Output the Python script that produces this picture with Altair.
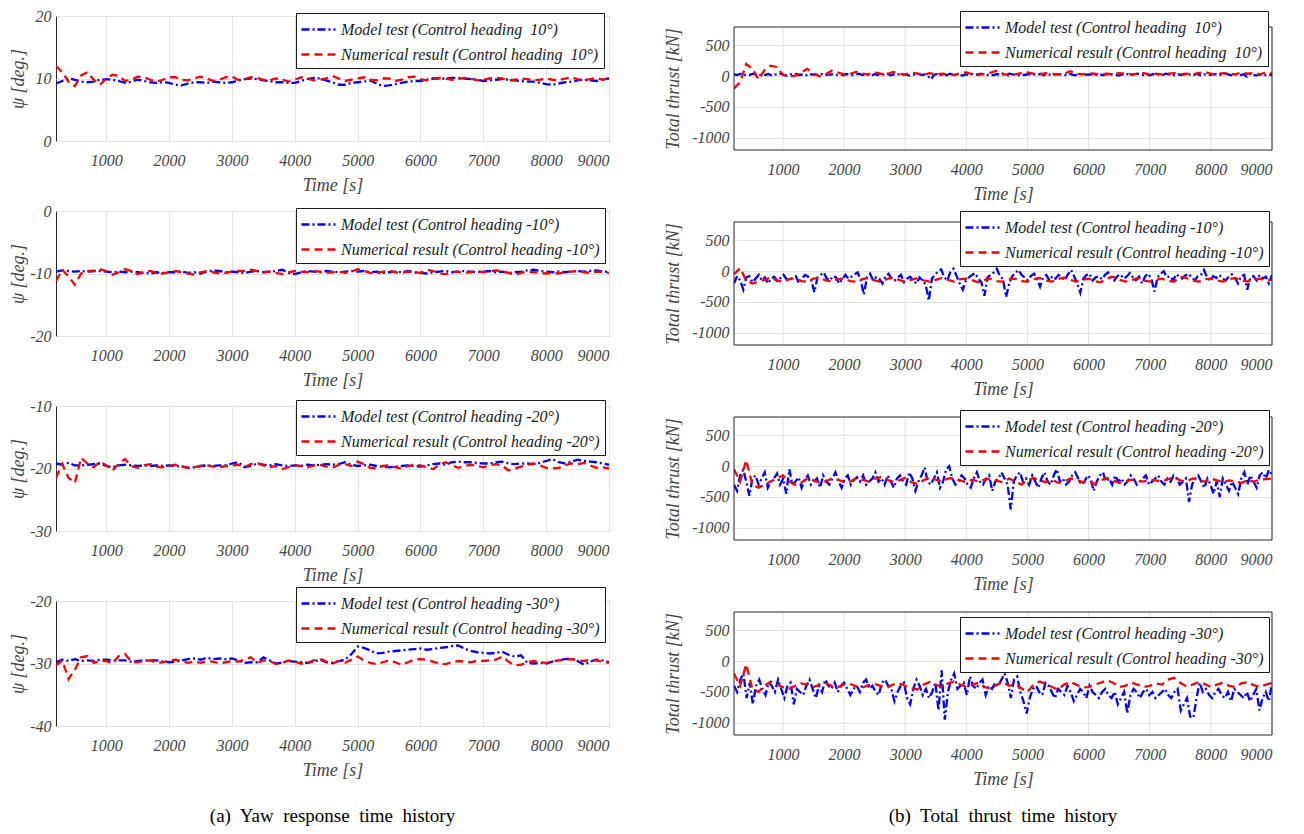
import altair as alt
import pandas as pd
import numpy as np

# ---------------- data ----------------
T0, T1 = 200, 9000
X_TICKS = [1000, 2000, 3000, 4000, 5000, 6000, 7000, 8000, 9000]
HEADINGS = ["\u00a010", "-10", "-20", "-30"]

# Yaw (deg), samples every 100 s from 200 s to 9000 s
yaw_model_10 = [9.2, 9.6, 10.0, 9.8, 9.5, 9.4, 9.5, 9.8, 9.9, 9.8, 9.6, 9.3, 9.5, 9.8, 9.6, 9.4, 9.3, 9.4, 9.3, 9.0,
                8.9, 9.2, 9.4, 9.4, 9.3, 9.5, 9.4, 9.3, 9.4, 9.7, 9.9, 10.0, 9.9, 9.7, 9.6, 9.4, 9.4, 9.3, 9.3, 9.6,
                9.9, 10.1, 10.0, 9.7, 9.4, 9.0, 9.0, 9.3, 9.4, 9.5, 9.7, 9.2, 8.8, 8.9, 9.1, 9.3, 9.5, 9.6, 9.6, 9.8,
                10.0, 10.0, 10.0, 10.1, 10.1, 10.0, 9.9, 9.8, 9.6, 9.7, 9.8, 9.9, 9.8, 9.7, 9.6, 9.5, 9.5, 9.3, 9.1, 9.0,
                9.2, 9.4, 9.5, 9.7, 9.8, 9.7, 9.6, 9.9, 10.0]
yaw_num_10 = [12.0, 11.0, 9.5, 8.8, 10.5, 11.0, 9.8, 9.0, 10.0, 10.6, 10.4, 9.6, 9.8, 10.3, 10.2, 9.8, 9.5, 9.8, 10.2, 10.2,
              9.8, 9.7, 10.0, 10.3, 10.0, 9.6, 9.8, 10.2, 10.3, 9.8, 9.9, 10.2, 10.1, 9.8, 9.7, 10.0, 9.8, 9.5, 9.8, 10.2,
              10.0, 9.7, 9.8, 10.0, 10.4, 10.0, 9.6, 9.8, 10.0, 10.2, 9.8, 9.7, 10.0, 10.0, 9.6, 9.8, 10.2, 10.3, 9.9, 9.7,
              10.0, 10.1, 10.0, 9.8, 9.9, 10.1, 10.0, 9.7, 9.8, 10.0, 10.1, 10.0, 9.7, 9.8, 10.0, 9.9, 9.7, 9.8, 10.0, 9.8,
              9.7, 10.0, 10.2, 9.9, 9.7, 9.9, 10.1, 9.8, 10.0]
yaw_model_m10 = [-9.7, -9.5, -9.6, -9.7, -9.6, -9.7, -9.6, -9.6, -9.7, -9.8, -9.7, -9.8, -9.7, -9.8, -9.9, -10.0, -9.8, -9.9,
                 -9.8, -9.8, -9.7, -9.9, -9.8, -10.0, -9.7, -9.5, -9.6, -9.8, -9.7, -9.8, -9.9, -9.7, -9.6, -9.8, -9.7, -9.6,
                 -9.4, -9.9, -10.1, -9.8, -9.6, -9.7, -9.8, -9.6, -9.7, -9.8, -9.7, -9.6, -9.7, -9.6, -9.8, -9.7, -9.9, -9.8,
                 -9.7, -9.8, -9.6, -9.8, -9.9, -10.0, -9.8, -9.7, -9.6, -9.8, -9.7, -9.6, -9.7, -9.8, -9.7, -9.6, -9.8, -9.7,
                 -9.9, -9.8, -9.7, -9.5, -9.4, -9.6, -9.7, -9.8, -9.7, -9.8, -9.7, -9.6, -9.7, -9.6, -9.5, -9.7, -9.7]
yaw_num_m10 = [-11.2, -9.4, -10.5, -11.8, -10.0, -9.6, -9.6, -9.3, -9.6, -10.2, -9.8, -9.3, -9.6, -10.1, -9.8, -9.6, -9.9,
               -10.0, -9.8, -9.6, -9.8, -10.0, -10.2, -9.8, -9.6, -9.8, -10.0, -9.9, -9.7, -9.6, -9.6, -9.4, -9.6, -9.8,
               -9.7, -9.9, -10.1, -9.8, -9.6, -9.7, -9.8, -9.6, -9.7, -9.9, -9.8, -9.7, -9.9, -9.7, -9.3, -9.6, -9.9, -10.0,
               -9.7, -9.6, -9.8, -9.9, -9.7, -9.8, -9.9, -9.4, -9.6, -10.0, -10.1, -9.8, -9.7, -9.9, -9.8, -9.6, -9.8, -9.7,
               -9.5, -9.6, -9.9, -10.2, -9.9, -9.7, -9.8, -9.9, -10.0, -9.9, -10.0, -9.8, -9.7, -9.6, -9.8, -9.9, -9.7,
               -9.8, -9.9]
yaw_model_m20 = [-19.2, -19.4, -19.1, -19.5, -19.5, -19.4, -19.3, -19.2, -19.6, -19.8, -19.5, -19.4, -19.5, -19.6, -19.5,
                 -19.6, -19.5, -19.6, -19.5, -19.6, -19.7, -19.9, -19.8, -19.6, -19.5, -19.6, -19.5, -19.5, -19.2, -19.0,
                 -19.8, -19.6, -19.2, -19.4, -19.5, -19.3, -19.5, -19.6, -19.5, -19.6, -19.4, -19.5, -19.4, -19.3, -19.4,
                 -19.3, -19.0, -19.4, -19.6, -19.5, -19.4, -19.6, -19.7, -19.8, -19.7, -19.6, -19.5, -19.6, -19.7, -19.5,
                 -19.3, -19.2, -19.4, -19.0, -18.9, -19.0, -19.0, -19.1, -19.2, -19.2, -19.0, -18.9, -19.2, -19.3, -19.2,
                 -19.2, -19.3, -19.1, -18.8, -18.5, -19.0, -19.2, -18.9, -18.6, -18.8, -18.9, -19.0, -19.2, -19.4]
yaw_num_m20 = [-21.5, -19.3, -21.5, -22.3, -18.3, -19.2, -19.8, -18.9, -19.5, -20.3, -19.2, -18.5, -19.6, -19.9, -19.5,
               -19.3, -19.7, -19.8, -19.6, -19.4, -19.6, -19.9, -19.8, -19.6, -19.5, -19.7, -19.8, -19.6, -19.5, -19.4,
               -19.8, -19.3, -19.1, -19.5, -19.8, -19.6, -20.1, -19.8, -19.5, -19.6, -19.8, -19.5, -19.4, -19.7, -19.9,
               -19.4, -19.3, -19.6, -18.9, -19.3, -19.9, -20.0, -19.6, -19.5, -19.8, -20.0, -19.6, -19.4, -19.5, -19.8,
               -20.1, -19.4, -19.0, -19.5, -19.9, -19.6, -19.4, -19.6, -19.8, -19.5, -19.3, -19.5, -20.3, -20.0, -19.7,
               -19.4, -19.2, -19.5, -19.9, -20.0, -19.9, -19.5, -19.2, -19.3, -19.1, -19.5, -19.9, -19.8, -20.0]
yaw_model_m30 = [-29.8, -29.4, -29.6, -29.3, -29.6, -29.5, -29.6, -29.4, -29.4, -29.5, -29.5, -29.5, -29.7, -29.6, -29.5,
                 -29.5, -29.5, -29.7, -29.8, -29.7, -29.5, -29.3, -29.2, -29.4, -29.1, -29.3, -29.2, -29.3, -29.2, -29.5,
                 -29.9, -29.8, -29.8, -29.0, -29.5, -30.0, -29.9, -29.6, -29.7, -29.8, -29.9, -29.7, -29.4, -29.8, -29.9,
                 -29.6, -29.4, -28.5, -27.3, -27.5, -27.9, -28.4, -28.3, -28.1, -28.0, -27.9, -27.8, -27.7, -27.6, -27.8,
                 -27.7, -27.5, -27.4, -27.2, -27.1, -27.6, -28.0, -28.2, -28.3, -28.4, -28.3, -28.1, -28.6, -28.9, -28.7,
                 -29.9, -30.0, -29.9, -30.0, -29.7, -29.5, -29.3, -29.2, -29.6, -30.2, -29.7, -29.4, -29.5, -29.8]
yaw_num_m30 = [-30.3, -29.5, -32.5, -31.0, -29.0, -28.8, -29.9, -29.6, -29.6, -30.0, -28.8, -28.5, -29.7, -29.8, -29.6,
               -29.5, -29.9, -29.8, -29.5, -29.4, -29.6, -29.9, -29.7, -29.9, -29.6, -29.7, -30.0, -29.8, -29.6, -29.7,
               -29.4, -29.0, -29.9, -29.5, -29.6, -30.1, -29.9, -29.5, -29.7, -30.0, -29.9, -29.5, -29.2, -29.7, -30.0,
               -29.6, -29.9, -29.4, -28.9, -29.5, -29.9, -30.1, -29.8, -29.5, -29.8, -30.2, -29.8, -29.4, -29.3, -29.4,
               -29.7, -30.0, -30.1, -29.8, -29.6, -29.7, -29.8, -29.6, -29.6, -29.5, -29.4, -28.9, -29.7, -30.3, -30.2,
               -29.8, -29.6, -29.8, -29.9, -29.7, -29.5, -29.4, -29.3, -29.5, -29.6, -29.4, -29.5, -29.7, -29.9]

# Total thrust (kN): model test sampled every 50 s, numerical every 100 s (200 s .. 9000 s)
thr_model_10 = [30, 20, 40, 10, 30, 20, 40, 25, 10, 30, 20, 35, 15, 30, 25, 40, 20, 10, 30, 25, 35, 20, 30, 15, 40, 25,
                30, 20, 35, 10, 30, 25, 40, 20, 30, 15, 35, 25, 20, 30, 40, 20, 30, 25, 10, 35, 20, 30, 25, 40, 15, 30,
                20, 35, 25, 30, 10, 20, 30, 40, 20, 30, 0, -50, 25, 35, 20, 30, 15, 40, 25, 30, 20, 10, 30, 25, 35, 20,
                30, 40, 25, 20, 30, 15, 35, 25, 30, 20, 40, 30, 25, 15, 30, 20, 35, 25, 30, 20, 40, 15, 30, 25, 20, 35,
                30, 25, 20, 40, 30, 15, 25, 35, 20, 30, 25, 40, 20, 30, 15, 35, 25, 30, 20, 10, 30, 25, 35, 20, 30, 40,
                25, 20, 30, 15, 35, 25, 30, 20, 40, 30, 25, 15, 30, 20, 35, 25, 30, 20, 40, 15, 30, 25, 20, 35, 30, 25,
                20, 40, 30, 15, 25, 35, 20, 30, -10, 40, 20, 15, 30, 25, 20, 35, 10]
thr_num_10 = [-200, -100, 200, 120, -50, 100, 170, 150, 20, 0, 10, 60, 120, 40, 0, 30, 90, 60, 30, 40, 70, 40, 30, 60,
              40, 30, 70, 40, 30, 60, 40, 20, 50, 30, 40, 30, 20, 50, 60, 30, 20, 40, 60, 90, 40, 10, 30, 50, 60, 40,
              30, 50, 40, 30, 40, 80, 40, 30, 50, 40, 30, 40, 30, 50, 40, 30, 40, 50, 30, 40, 30, 40, 50, 30, 40, 30,
              50, 70, 40, 30, 50, 40, 30, 60, 40, 50, 30, 60, 40]
thr_model_m10 = [-200, -80, -150, -300, -100, -80, -180, -120, -60, -150, -100, -200, -120, -90, -160, -110, -60, -130,
                 -150, -100, -80, -200, -120, -60, -90, -150, -340, -100, -60, -20, -120, -150, -80, -100, -200, -130,
                 -60, -120, -90, -50, -20, -150, -380, -100, -40, -150, -100, -120, -200, -80, -40, -130, -150, -100,
                 -60, -180, -120, -90, -150, -200, -100, -150, -220, -480, -120, -60, 0, 30, -100, -150, -10, 40, -80,
                 -200, -300, -150, -100, -60, -30, -120, -180, -400, -100, -60, -20, 40, -80, -130, -420, -200, -80,
                 -30, 20, -60, -100, -150, -80, -40, -120, -250, -100, -60, -150, -80, -120, -60, -100, -150, -50, 20,
                 -80, -200, -350, -120, -60, -40, -150, -100, -80, -130, -60, -20, -100, -150, -80, -50, -120, -90,
                 -30, -100, -150, -90, -200, -80, -40, -130, -330, -100, -40, 0, -100, -80, -150, -50, -90, -120, -70,
                 -40, -100, -150, -80, -60, 20, -100, -150, -80, -110, -60, -120, -150, -90, -50, -110, -200, -80, -60,
                 -300, -100, -80, -150, -60, -120, -90, -200, -60]
thr_num_m10 = [-50, 50, -150, -200, -170, -140, -100, -150, -170, -130, -110, -160, -170, -120, -110, -150, -170, -130,
               -120, -160, -170, -130, -110, -150, -170, -130, -100, -140, -170, -140, -110, -150, -170, -140, -110,
               -140, -170, -130, -120, -150, -180, -140, -120, -160, -170, -130, -120, -160, -170, -130, -110, -150,
               -170, -130, -100, -140, -170, -140, -120, -160, -180, -120, -90, -140, -170, -150, -110, -150, -170,
               -140, -120, -160, -170, -90, -110, -150, -170, -130, -120, -150, -170, -130, -110, -150, -170, -130,
               -120, -150, -140]
thr_model_m20 = [-300, -400, -150, -60, -250, -480, -200, -150, -300, -200, -100, -350, -250, -200, -120, -300, -200,
                 -450, -50, -300, -250, -180, -350, -220, -150, -300, -250, -200, -350, -150, -250, -300, -200, -100,
                 -250, -350, -200, -150, -300, -220, -180, -250, -150, -300, -250, -200, -100, -250, -200, -300, -150,
                 -250, -350, -200, -150, -250, -300, -100, -200, -400, -250, -150, -20, -250, -300, -200, -100, -350,
                 -250, -50, 0, -200, -300, -250, -150, -200, -300, -350, -200, -100, -250, -300, -200, -150, -400, -250,
                 -200, -100, -200, -300, -700, -250, -150, -100, -250, -200, -300, -150, -250, -350, -200, -100, -250,
                 -300, -150, -50, -250, -200, -300, -250, -150, -100, -200, -300, -250, -150, -200, -400, -250, -150,
                 -100, -250, -200, -300, -150, -250, -200, -300, -250, -150, -200, -300, -250, -200, -150, -300, -250,
                 -200, -150, -250, -300, -200, -250, -150, -200, -300, -250, -200, -580, -300, -200, -150, -250, -350,
                 -200, -300, -450, -250, -500, -200, -300, -400, -250, -350, -450, -200, -100, -300, -150, -250, -350,
                 -150, -100, -200, -60, -150]
thr_num_m20 = [-50, -250, 100, -300, -350, -300, -250, -200, -150, -250, -300, -270, -200, -230, -270, -250, -200, -220,
               -260, -250, -200, -220, -250, -200, -180, -220, -250, -230, -190, -260, -290, -230, -180, -220, -250,
               -200, -190, -230, -260, -220, -250, -220, -200, -240, -260, -200, -250, -300, -230, -190, -230, -260,
               -220, -270, -250, -200, -220, -260, -240, -290, -230, -190, -230, -270, -250, -220, -240, -250, -220,
               -230, -250, -210, -180, -230, -250, -200, -230, -250, -200, -230, -260, -230, -250, -270, -230, -250,
               -220, -210, -200]
thr_model_m30 = [-400, -500, -300, -200, -600, -350, -700, -400, -300, -450, -550, -350, -400, -500, -300, -450, -600,
                 -400, -350, -700, -450, -500, -550, -400, -300, -450, -600, -400, -500, -300, -400, -450, -350, -500,
                 -400, -350, -450, -550, -450, -400, -500, -350, -300, -450, -400, -500, -550, -350, -300, -400, -450,
                 -650, -500, -400, -350, -600, -700, -450, -300, -400, -550, -450, -600, -500, -350, -800, -150, -950,
                 -500, -300, -200, -450, -400, -350, -550, -250, -400, -450, -350, -300, -550, -400, -450, -350, -400,
                 -300, -200, -350, -600, -300, -250, -500, -650, -850, -600, -450, -400, -500, -550, -350, -400, -500,
                 -600, -450, -500, -550, -400, -500, -650, -550, -450, -500, -600, -400, -500, -550, -600, -500, -450,
                 -550, -600, -500, -700, -600, -500, -850, -550, -450, -500, -600, -500, -450, -550, -500, -600, -550,
                 -500, -450, -550, -600, -500, -450, -800, -700, -600, -900, -920, -600, -350, -500, -450, -550, -600,
                 -500, -450, -550, -600, -500, -650, -450, -500, -550, -600, -500, -650, -550, -450, -800, -600, -500,
                 -650, -350]
thr_num_m30 = [-200, -400, -50, -450, -500, -400, -330, -380, -420, -450, -400, -360, -380, -420, -380, -360, -400, -420,
               -380, -370, -410, -430, -390, -370, -400, -430, -380, -360, -400, -440, -460, -380, -340, -380, -420,
               -360, -330, -380, -420, -380, -350, -420, -450, -380, -340, -400, -380, -440, -500, -380, -330, -370,
               -420, -460, -380, -340, -380, -430, -420, -380, -350, -310, -350, -420, -400, -350, -380, -420, -400,
               -360, -380, -300, -270, -350, -410, -380, -340, -370, -420, -380, -350, -400, -420, -360, -340, -390,
               -420, -380, -350]

YAW_MODEL = [yaw_model_10, yaw_model_m10, yaw_model_m20, yaw_model_m30]
YAW_NUM = [yaw_num_10, yaw_num_m10, yaw_num_m20, yaw_num_m30]
THR_MODEL = [thr_model_10, thr_model_m10, thr_model_m20, thr_model_m30]
THR_NUM = [thr_num_10, thr_num_m10, thr_num_m20, thr_num_m30]
YAW_DOMAINS = [[0, 20], [-20, 0], [-30, -10], [-40, -20]]
YAW_TICKS = [[0, 10, 20], [-20, -10, 0], [-30, -20, -10], [-40, -30, -20]]
THR_DOMAIN = [-1200, 800]
THR_TICKS = [-1000, -500, 0, 500]

FONT = "Liberation Serif"
BLUE, RED = "#0000ff", "#ff0000"
GRID = "#e2e2e2"
FRAME = "#262626"

LW, LH = 553, 125           # yaw plot boxes
RW, RH = 538, 123           # thrust plot boxes
R_SHIFT = 11                # thrust boxes sit 11 px lower than the yaw boxes
ROW_H = R_SHIFT + RH        # height of one grid row
ROW_PITCH = 195
# legend box top, relative to the top of each plot box
YAW_LEG_Y = [-3, -3, -6, -14]
THR_LEG_Y = [-16, -11, -7, 5]


def series_df(vals, label):
    t = np.linspace(T0, T1, len(vals))
    return pd.DataFrame({"t": t, "v": vals, "s": label})


def make_legend(legx, legy):
    return alt.Legend(title=None, orient="none", legendX=legx, legendY=legy, direction="vertical",
                      fillColor="white", strokeColor="#1a1a1a", padding=5, symbolType="M-1.7,0H1.7",
                      symbolSize=400, symbolStrokeWidth=2.5, symbolOffset=6, labelFont=FONT,
                      labelFontStyle="italic", labelFontSize=16, labelColor="#1a1a1a", labelOffset=11,
                      rowPadding=5, labelLimit=400)


def line_layer(model_vals, num_vals, heading, xscale, yscale, xaxis, yaxis, legend):
    lab_m = f"Model test (Control heading {heading}\u00b0)"
    lab_n = f"Numerical result (Control heading {heading}\u00b0)"
    df = pd.concat([series_df(model_vals, lab_m), series_df(num_vals, lab_n)], ignore_index=True)
    return alt.Chart(df).mark_line(strokeWidth=2.3, clip=True).encode(
        x=alt.X("t:Q", scale=xscale, axis=xaxis),
        y=alt.Y("v:Q", scale=yscale, axis=yaxis),
        color=alt.Color("s:N", scale=alt.Scale(domain=[lab_m, lab_n], range=[BLUE, RED]), legend=legend),
        strokeDash=alt.StrokeDash("s:N", scale=alt.Scale(domain=[lab_m, lab_n],
                                                         range=[[8, 3, 2, 3], [8, 5]]), legend=legend),
    )


def caption_title(text, offset):
    return alt.TitleParams(text, orient="bottom", anchor="middle", frame="group", font=FONT, fontSize=19,
                           fontWeight="normal", color="black", offset=offset)


def x_axis(grid):
    return alt.Axis(values=X_TICKS, title="Time [s]", labelExpr="'' + datum.value", labelPadding=11,
                    titlePadding=8, grid=grid)


def yaw_panel(i):
    xscale = alt.Scale(domain=[T0, T1], nice=False, zero=False)
    yscale = alt.Scale(domain=YAW_DOMAINS[i], nice=False, zero=False)
    yaxis = alt.Axis(values=YAW_TICKS[i], title="\u03c8 [deg.]", labelExpr="'' + datum.value", labelPadding=5,
                     titleX=-29, titleY=LH / 2)
    ch = line_layer(YAW_MODEL[i], YAW_NUM[i], HEADINGS[i], xscale, yscale, x_axis(True), yaxis,
                    make_legend(240, YAW_LEG_Y[i])).properties(width=LW, height=LH)
    if i == 3:
        ch = ch.properties(title=caption_title("(a)\u00a0 Yaw\u00a0 response\u00a0 time\u00a0 history", 28))
    return ch


def thrust_panel(i):
    lo, hi = THR_DOMAIN
    top = hi + (hi - lo) * R_SHIFT / RH     # value at the top of the row (box starts R_SHIFT px lower)
    xscale = alt.Scale(domain=[T0, T1], nice=False, zero=False)
    yscale = alt.Scale(domain=[lo, top], nice=False, zero=False)
    yaxis = alt.Axis(values=THR_TICKS, title="Total thrust [kN]", labelExpr="'' + datum.value", labelPadding=5,
                     titleX=-52, titleY=R_SHIFT + RH / 2)
    grid = alt.Chart(pd.DataFrame({"t": X_TICKS, "lo": lo, "hi": hi})).mark_rule(
        color=GRID, strokeWidth=1).encode(
        x=alt.X("t:Q", scale=xscale), y=alt.Y("lo:Q", scale=yscale), y2="hi:Q")
    lines = line_layer(THR_MODEL[i], THR_NUM[i], HEADINGS[i], xscale, yscale, x_axis(False), yaxis,
                       make_legend(226, R_SHIFT + THR_LEG_Y[i]))
    frame = alt.Chart(pd.DataFrame({"x1": [T0], "x2": [T1], "y1": [lo], "y2": [hi]})).mark_rect(
        fillOpacity=0, stroke=FRAME, strokeWidth=1).encode(
        x=alt.X("x1:Q", scale=xscale), x2="x2:Q", y=alt.Y("y1:Q", scale=yscale), y2="y2:Q")
    ch = alt.layer(grid, lines, frame).properties(
        width=RW, height=ROW_H, view=alt.ViewBackground(stroke="transparent"))
    if i == 3:
        ch = ch.properties(title=caption_title("(b)\u00a0 Total\u00a0 thrust\u00a0 time\u00a0 history", 19))
    return ch


grid_items = []
for i in range(4):
    grid_items.append(yaw_panel(i))
    grid_items.append(thrust_panel(i))

chart = alt.concat(
    *grid_items, columns=2, spacing={"row": ROW_PITCH - ROW_H, "column": 125}, bounds="flush",
    align="each"
).resolve_scale(
    color="independent", strokeDash="independent"
).properties(
    padding={"left": 0, "top": -1, "right": 0, "bottom": 0}, background="white"
).configure_view(
    stroke=FRAME, strokeWidth=1
).configure_axis(
    grid=True, gridColor=GRID, gridWidth=1, domain=False, ticks=False,
    labelFont=FONT, labelFontStyle="italic", labelFontSize=16, labelColor="#444444",
    titleFont=FONT, titleFontStyle="italic", titleFontWeight="normal", titleFontSize=18, titleColor="#444444"
)

chart.save("out.html", embed_options={"renderer": "svg", "actions": False})
